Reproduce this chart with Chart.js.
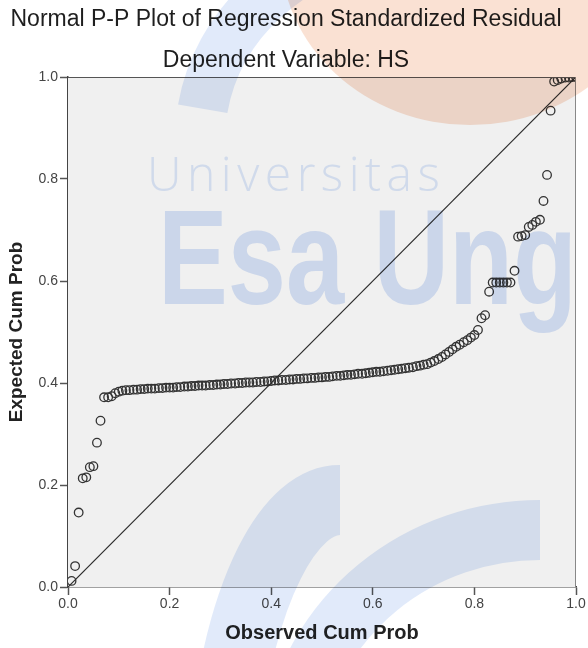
<!DOCTYPE html>
<html>
<head>
<meta charset="utf-8">
<script src="https://cdn.jsdelivr.net/npm/chart.js@4.4.1/dist/chart.umd.min.js"></script>
<style>
  html, body { margin: 0; padding: 0; background: #ffffff; }
  #wrap { width: 588px; height: 648px; position: relative; }
</style>
</head>
<body>
<div id="wrap"><canvas id="ppPlot" width="588" height="648"></canvas></div>
<script>
const chartTitle = "Normal P-P Plot of Regression Standardized Residual";
const chartSubtitle = "Dependent Variable: HS";
const xAxisTitle = "Observed Cum Prob";
const yAxisTitle = "Expected Cum Prob";
const tickValues = [0, 0.2, 0.4, 0.6, 0.8, 1.0];

// observed cumulative probability of each case
const observedCum = [
  0.007, 0.014, 0.021, 0.029, 0.036, 0.043, 0.050, 0.057, 0.064, 0.071,
  0.079, 0.086, 0.093, 0.100, 0.107, 0.114, 0.121, 0.129, 0.136, 0.143,
  0.150, 0.157, 0.164, 0.171, 0.179, 0.186, 0.193, 0.200, 0.207, 0.214,
  0.221, 0.229, 0.236, 0.243, 0.250, 0.257, 0.264, 0.271, 0.279, 0.286,
  0.293, 0.300, 0.307, 0.314, 0.321, 0.329, 0.336, 0.343, 0.350, 0.357,
  0.364, 0.371, 0.379, 0.386, 0.393, 0.400, 0.407, 0.414, 0.421, 0.429,
  0.436, 0.443, 0.450, 0.457, 0.464, 0.471, 0.479, 0.486, 0.493, 0.500,
  0.507, 0.514, 0.521, 0.529, 0.536, 0.543, 0.550, 0.557, 0.564, 0.571,
  0.579, 0.586, 0.593, 0.600, 0.607, 0.614, 0.621, 0.629, 0.636, 0.643,
  0.650, 0.657, 0.664, 0.671, 0.679, 0.686, 0.693, 0.700, 0.707, 0.714,
  0.721, 0.729, 0.736, 0.743, 0.750, 0.757, 0.764, 0.771, 0.779, 0.786,
  0.793, 0.800, 0.807, 0.814, 0.821, 0.829, 0.836, 0.843, 0.850, 0.857,
  0.864, 0.871, 0.879, 0.886, 0.893, 0.900, 0.907, 0.914, 0.921, 0.929,
  0.936, 0.943, 0.950, 0.957, 0.964, 0.971, 0.979, 0.986, 0.993, 1.000
];

// expected cumulative probability
const expectedCum = [
  0.012, 0.041, 0.146, 0.213, 0.215, 0.235, 0.237, 0.283, 0.326, 0.372,
  0.372, 0.374, 0.380, 0.383, 0.385, 0.386, 0.386, 0.387, 0.387, 0.388,
  0.388, 0.389, 0.389, 0.389, 0.390, 0.390, 0.391, 0.391, 0.391, 0.392,
  0.392, 0.393, 0.393, 0.394, 0.394, 0.395, 0.395, 0.395, 0.396, 0.396,
  0.397, 0.397, 0.398, 0.398, 0.399, 0.399, 0.400, 0.400, 0.401, 0.401,
  0.401, 0.402, 0.402, 0.403, 0.403, 0.404, 0.405, 0.405, 0.406, 0.406,
  0.407, 0.407, 0.408, 0.408, 0.409, 0.409, 0.410, 0.410, 0.411, 0.411,
  0.412, 0.412, 0.413, 0.414, 0.414, 0.415, 0.416, 0.416, 0.417, 0.418,
  0.418, 0.419, 0.420, 0.421, 0.422, 0.422, 0.423, 0.424, 0.425, 0.426,
  0.427, 0.428, 0.429, 0.430, 0.431, 0.433, 0.434, 0.436, 0.437, 0.440,
  0.443, 0.447, 0.451, 0.456, 0.461, 0.466, 0.471, 0.475, 0.480, 0.484,
  0.489, 0.494, 0.504, 0.527, 0.533, 0.579, 0.597, 0.597, 0.597, 0.597,
  0.597, 0.597, 0.620, 0.687, 0.688, 0.690, 0.706, 0.710, 0.716, 0.720,
  0.757, 0.808, 0.934, 0.991, 0.994, 0.997, 0.999, 0.999, 1.000, 1.000
];

const diagonal = [{ x: 0, y: 0 }, { x: 1, y: 1 }];

const FONT = "'Liberation Sans', Arial, sans-serif";

// gray plot background + frame
const plotFrame = {
    id: "plotFrame",
    beforeDatasetsDraw(chart) {
        const { ctx, chartArea: a } = chart;
        ctx.save();
        ctx.fillStyle = "#f0f0f0";
        ctx.fillRect(a.left, a.top, a.right - a.left, a.bottom - a.top);
        ctx.restore();
    },
    afterDatasetsDraw(chart) {
        const { ctx, chartArea: a } = chart;
        ctx.save();
        ctx.lineWidth = 1;
        ctx.strokeStyle = "#555";
        ctx.beginPath();
        ctx.moveTo(a.left, a.top + 0.5);
        ctx.lineTo(a.right, a.top + 0.5);
        ctx.stroke();
        ctx.strokeStyle = "#888";
        ctx.beginPath();
        ctx.moveTo(a.right - 0.5, a.top);
        ctx.lineTo(a.right - 0.5, a.bottom);
        ctx.stroke();
        ctx.restore();
    }
};

// titles on top
const headings = {
    id: "headings",
    afterDraw(chart) {
        const ctx = chart.ctx;
        ctx.save();
        ctx.fillStyle = "#1e1e1e";
        ctx.textAlign = "center";
        ctx.textBaseline = "middle";
        ctx.font = "23px " + FONT;
        ctx.fillText(chartTitle, 286, 20);
        ctx.fillText(chartSubtitle, 286, 61);
        ctx.restore();
    }
};

// faint university watermark over the picture
const watermark = {
    id: "watermark",
    afterDraw(chart) {
        const ctx = chart.ctx;
        ctx.save();
        ctx.globalCompositeOperation = "multiply";

        // orange blob at the top right
        ctx.fillStyle = "rgba(245,200,175,0.55)";
        ctx.beginPath();
        ctx.ellipse(470, -50, 190, 175, 0, 0, 2 * Math.PI);
        ctx.fill();

        // blue sweeps
        ctx.strokeStyle = "rgba(205,220,246,0.6)";
        ctx.lineWidth = 50;
        ctx.beginPath();
        ctx.ellipse(420, 140, 220, 200, 0, 1.05 * Math.PI, 1.45 * Math.PI);
        ctx.stroke();
        ctx.lineWidth = 60;
        ctx.beginPath();
        ctx.ellipse(540, 770, 250, 240, 0, 1.05 * Math.PI, 1.5 * Math.PI);
        ctx.stroke();
        ctx.lineWidth = 70;
        ctx.beginPath();
        ctx.ellipse(340, 830, 120, 330, 0, 1.1 * Math.PI, 1.5 * Math.PI);
        ctx.stroke();

        // lettering
        ctx.textBaseline = "alphabetic";
        ctx.textAlign = "left";
        ctx.fillStyle = "rgba(210,224,248,0.75)";
        ctx.font = "300 48px 'Open Sans', sans-serif";
        if ("letterSpacing" in ctx) ctx.letterSpacing = "5.5px";
        ctx.fillText("Universitas", 147, 191);
        if ("letterSpacing" in ctx) ctx.letterSpacing = "0px";
        ctx.fillStyle = "rgba(200,216,246,0.7)";
        ctx.font = "bold 136px " + FONT;
        ctx.translate(158, 304);
        ctx.scale(0.77, 1);
        ctx.fillText("Esa Ung", 0, 0);
        ctx.restore();
    }
};

const tickFont = { family: FONT, size: 14 };

new Chart(document.getElementById("ppPlot"), {
    type: "scatter",
    data: {
        datasets: [
            {
                type: "line",
                data: diagonal,
                borderColor: "#2a2a2a",
                borderWidth: 1.2,
                pointRadius: 0,
                fill: false
            },
            {
                data: observedCum.map((x, i) => ({ x, y: expectedCum[i] })),
                pointStyle: "circle",
                pointRadius: 4.3,
                pointBorderWidth: 1.3,
                pointBorderColor: "#333",
                pointBackgroundColor: "rgba(0,0,0,0)"
            }
        ]
    },
    options: {
        responsive: false,
        animation: false,
        events: [],
        layout: { padding: { top: 77, right: 12, left: 0, bottom: 0 } },
        plugins: {
            legend: { display: false },
            title: { display: false },
            tooltip: { enabled: false }
        },
        scales: {
            x: {
                type: "linear",
                min: 0,
                max: 1,
                afterBuildTicks: s => { s.ticks = tickValues.map(v => ({ value: v })); },
                afterFit: s => { s.height = 61; },
                ticks: {
                    callback: v => v.toFixed(1),
                    color: "#444",
                    font: tickFont,
                    padding: 1,
                    maxRotation: 0
                },
                grid: { drawOnChartArea: false, drawTicks: true, tickLength: 8, color: "#555", tickWidth: 1.5 },
                border: { color: "#444", width: 1.5 },
                title: {
                    display: true,
                    text: xAxisTitle,
                    color: "#222",
                    font: { family: FONT, size: 20, weight: "bold" },
                    padding: { top: 6, bottom: 3 }
                }
            },
            y: {
                type: "linear",
                min: 0,
                max: 1,
                afterBuildTicks: s => { s.ticks = tickValues.map(v => ({ value: v })); },
                afterFit: s => { s.width = 68; },
                ticks: {
                    callback: v => v.toFixed(1),
                    color: "#444",
                    font: tickFont,
                    padding: 2
                },
                grid: { drawOnChartArea: false, drawTicks: true, tickLength: 8, color: "#555", tickWidth: 1.5 },
                border: { color: "#444", width: 1.5 },
                title: {
                    display: true,
                    text: yAxisTitle,
                    color: "#222",
                    font: { family: FONT, size: 19, weight: "bold" },
                    padding: { top: 5, bottom: 0 }
                }
            }
        }
    },
    plugins: [plotFrame, headings, watermark]
});
</script>
</body>
</html>
